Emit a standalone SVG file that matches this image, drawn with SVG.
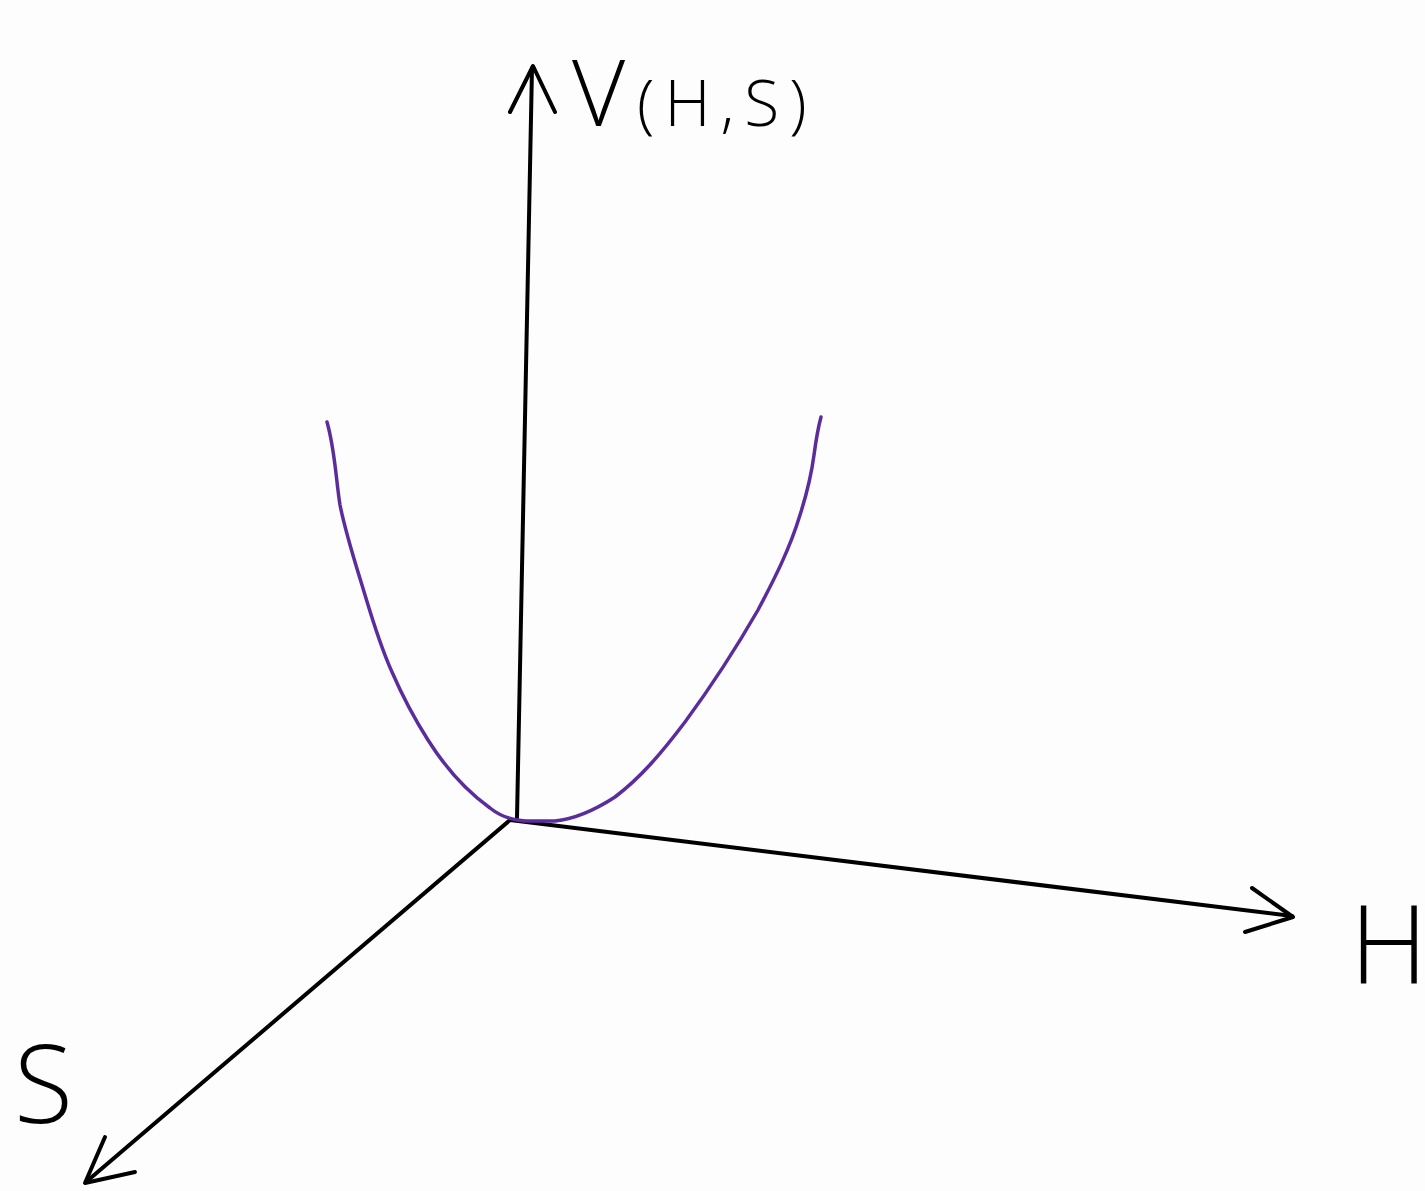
<svg xmlns="http://www.w3.org/2000/svg" width="1425" height="1191" viewBox="0 0 1425 1191">
<style>
.axis{fill:none;stroke:#000;stroke-width:4;stroke-linecap:round;stroke-linejoin:round}
.curve{fill:none;stroke:#5b2d9c;stroke-width:3.5;stroke-linecap:round;stroke-linejoin:round}
.lbl{font-family:"Open Sans","Liberation Sans","DejaVu Sans",sans-serif;font-weight:300;fill:#000}
</style>
<rect width="1425" height="1191" fill="#fdfdfd"/>
<g id="connectors">
<g id="v-axis"><path class="axis" d="M517 818 L532 68"/><path class="axis" d="M510 112 L533 66 L555 112"/></g>
<g id="h-axis"><path class="axis" d="M510 820 L1292 916"/><path class="axis" d="M1252 888 L1293 917 L1245 932"/></g>
<g id="s-axis"><path class="axis" d="M510 820 L86 1182"/><path class="axis" d="M105 1137 L85 1183 L135 1172"/></g>
</g>
<g id="curve">
<path class="curve" d="M327 422 C335 450 336 480 340 505 C346 535 356 565 365 595 C374 625 382 650 392 672 C402 695 414 718 428 740 C445 767 465 790 490 808 C500 816 510 820 525 821 L555 821 C575 819 595 810 615 797 C640 778 660 755 685 722 C710 688 735 650 758 610 C775 578 790 548 800 515 C808 490 812 470 814 455 C816 440 818 428 821 417"/>
</g>
<g id="label-v"><text class="lbl" x="572" y="126"><tspan font-size="92">V</tspan><tspan font-size="64" dx="12" letter-spacing="10">(H,S)</tspan></text></g>
<g id="label-h"><text class="lbl" x="1350" y="983" font-size="108">H</text></g>
<g id="label-s"><text class="lbl" x="14" y="1123" font-size="108">S</text></g>
</svg>
